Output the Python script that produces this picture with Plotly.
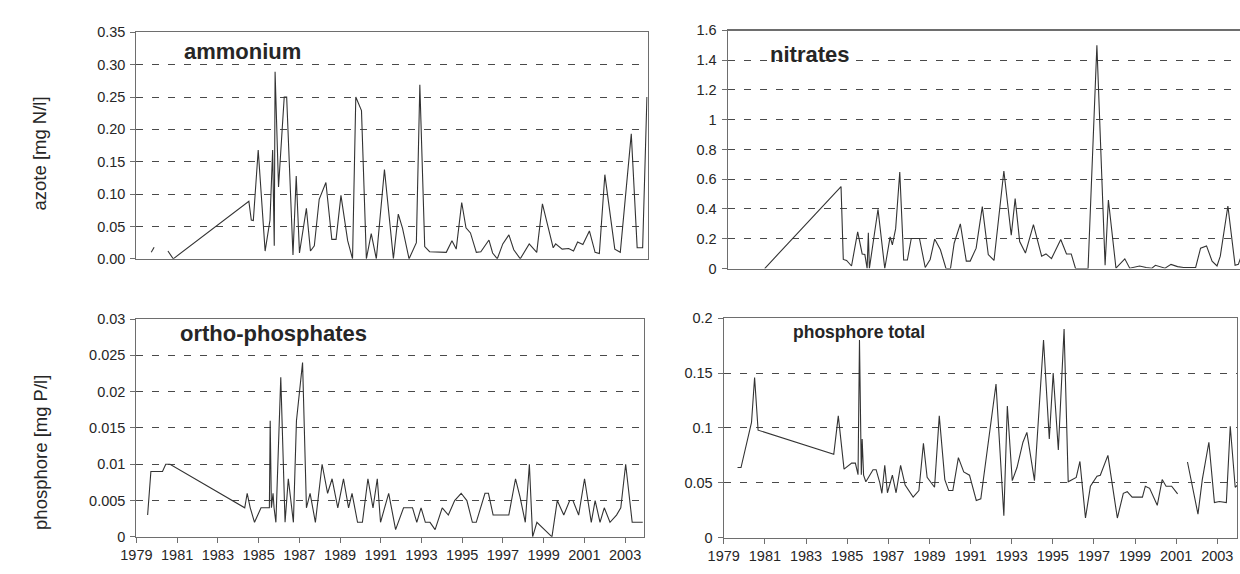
import plotly.graph_objects as go

# ---- sampling dates (decimal years) and concentrations ----
years_nh4 = [1979.73, 1979.87, None,
             1980.55, 1980.81, 1984.53, 1984.65, 1984.75, 1984.99, 1985.33, 1985.57, 1985.70,
             1985.78, 1985.82, 1985.99, 1986.27, 1986.39, 1986.70, 1986.86, 1987.02, 1987.36,
             1987.56, 1987.75, 1987.99, 1988.32, 1988.61, 1988.82, 1989.06, 1989.39, 1989.63,
             1989.79, 1990.07, 1990.31, 1990.55, 1990.80, 1991.20, 1991.64, 1991.88, 1992.09,
             1992.41, 1992.77, 1992.94, 1993.18, 1993.42, 1993.95, 1994.24, 1994.52, 1994.73,
             1995.00, 1995.21, 1995.43, 1995.72, 1995.94, 1996.34, 1996.52, 1996.75, 1997.02,
             1997.32, 1997.56, 1997.88, 1998.32, 1998.69, 1998.97, 1999.26, 1999.50, 1999.62,
             1999.94, 2000.26, 2000.50, 2000.70, 2000.96, 2001.28, 2001.56, 2001.77, 2002.04,
             2002.53, 2002.80, 2003.34, 2003.63, 2003.90, 2004.11]
nh4 = [0.010, 0.018, None,
       0.012, 0.000, 0.089, 0.060, 0.059, 0.168, 0.012, 0.060, 0.168,
       0.020, 0.289, 0.111, 0.250, 0.250, 0.006, 0.128, 0.009, 0.078,
       0.012, 0.020, 0.092, 0.118, 0.030, 0.030, 0.098, 0.028, 0.000,
       0.250, 0.229, 0.000, 0.039, 0.000, 0.138, 0.000, 0.069, 0.047,
       0.000, 0.025, 0.269, 0.019, 0.011, 0.010, 0.010, 0.028, 0.015,
       0.087, 0.048, 0.040, 0.010, 0.011, 0.029, 0.009, 0.000, 0.023,
       0.037, 0.014, 0.000, 0.023, 0.010, 0.085, 0.046, 0.017, 0.023,
       0.015, 0.016, 0.012, 0.026, 0.022, 0.043, 0.010, 0.008, 0.130,
       0.015, 0.010, 0.193, 0.017, 0.017, 0.250]

years_no3 = [1980.80, 1984.52, 1984.63, 1984.79, 1985.03, 1985.33, 1985.55, 1985.68, 1985.79,
             1985.85, 1985.90, 1986.32, 1986.65, 1986.91, 1987.02, 1987.18, 1987.38, 1987.57,
             1987.75, 1987.94, 1988.34, 1988.62, 1988.86, 1989.08, 1989.36, 1989.63, 1989.85,
             1990.03, 1990.33, 1990.62, 1990.81, 1991.10, 1991.40, 1991.69, 1991.97, 1992.45,
             1992.81, 1993.00, 1993.22, 1993.50, 1993.89, 1994.29, 1994.50, 1994.77, 1995.22,
             1995.50, 1995.73, 1995.94, 1996.55, 1996.98, 1997.38, 1997.54, 1997.91, 1998.34,
             1998.58, 1998.79, 1999.06, 1999.38, 1999.66, 1999.83, 2000.11, 2000.30, 2000.59,
             2000.91, 2001.20, 2001.79, 2002.03, 2002.32, 2002.59, 2002.83, 2002.99, 2003.36,
             2003.71, 2003.87, 2004.05]
no3 = [0.000, 0.551, 0.061, 0.054, 0.017, 0.246, 0.098, 0.094, 0.000,
       0.240, 0.000, 0.398, 0.000, 0.213, 0.159, 0.268, 0.649, 0.057,
       0.057, 0.202, 0.202, 0.007, 0.061, 0.198, 0.126, 0.000, 0.000,
       0.170, 0.300, 0.050, 0.050, 0.137, 0.416, 0.094, 0.054, 0.655,
       0.224, 0.470, 0.181, 0.104, 0.295, 0.083, 0.098, 0.067, 0.195,
       0.098, 0.098, 0.000, 0.000, 1.500, 0.022, 0.460, 0.002, 0.065,
       0.002, 0.007, 0.017, 0.007, 0.002, 0.022, 0.013, 0.002, 0.028,
       0.013, 0.007, 0.007, 0.137, 0.152, 0.050, 0.017, 0.083, 0.420,
       0.022, 0.028, 0.100]

years_po4 = [1979.55, 1979.71, 1980.28, 1980.44, 1980.65, 1984.32, 1984.44, 1984.59, 1984.80,
             1985.12, 1985.53, 1985.57, 1985.63, 1985.71, 1985.76, 1985.85, 1986.09, 1986.30,
             1986.46, 1986.71, 1986.86, 1987.16, 1987.35, 1987.53, 1987.79, 1988.12, 1988.39,
             1988.61, 1988.89, 1989.17, 1989.42, 1989.59, 1989.86, 1990.10, 1990.37, 1990.62,
             1990.83, 1990.99, 1991.39, 1991.73, 1992.12, 1992.56, 1992.77, 1992.98, 1993.19,
             1993.42, 1993.67, 1994.02, 1994.32, 1994.63, 1994.95, 1995.23, 1995.50, 1995.69,
             1996.12, 1996.29, 1996.52, 1997.29, 1997.62, 1997.84, 1998.10, 1998.30, 1998.46,
             1998.67, 1999.41, 1999.67, 1999.99, 2000.28, 2000.44, 2000.72, 2001.01, 2001.34,
             2001.53, 2001.77, 2001.98, 2002.26, 2002.58, 2002.79, 2003.03, 2003.35, 2003.87]
po4 = [0.003, 0.009, 0.009, 0.010, 0.010, 0.004, 0.006, 0.004, 0.002,
       0.004, 0.004, 0.016, 0.004, 0.006, 0.004, 0.002, 0.022, 0.002,
       0.008, 0.002, 0.016, 0.024, 0.004, 0.006, 0.002, 0.010, 0.006,
       0.008, 0.004, 0.008, 0.004, 0.006, 0.002, 0.002, 0.008, 0.004,
       0.008, 0.002, 0.006, 0.001, 0.004, 0.004, 0.002, 0.004, 0.002,
       0.002, 0.001, 0.004, 0.003, 0.005, 0.006, 0.005, 0.002, 0.002,
       0.006, 0.006, 0.003, 0.003, 0.008, 0.0055, 0.002, 0.010, 0.000,
       0.002, 0.000, 0.005, 0.003, 0.005, 0.005, 0.003, 0.008, 0.002,
       0.005, 0.002, 0.004, 0.002, 0.003, 0.004, 0.010, 0.002, 0.002]

years_ptot = [1979.67, 1979.84, 1980.35, 1980.50, 1980.67, 1984.35, 1984.57, 1984.85, 1985.22,
              1985.40, 1985.53, 1985.60, 1985.69, 1985.73, 1985.80, 1985.91, 1986.26, 1986.41,
              1986.59, 1986.69, 1986.83, 1986.96, 1987.20, 1987.38, 1987.60, 1987.82, 1988.21,
              1988.49, 1988.71, 1988.89, 1989.25, 1989.48, 1989.75, 1989.94, 1990.14, 1990.41,
              1990.67, 1990.95, 1991.28, 1991.50, 1992.24, 1992.62, 1992.79, 1993.03, 1993.26,
              1993.55, 1993.74, 1994.11, 1994.55, 1994.83, 1995.02, 1995.27, 1995.55, 1995.75,
              1996.14, 1996.32, 1996.59, 1996.83, 1997.15, 1997.31, 1997.68, 1998.14, 1998.43,
              1998.62, 1998.86, 1999.36, 1999.50, 1999.71, 2000.08, 2000.32, 2000.51, 2000.78,
              2001.07, None,
              2001.55, 2002.06, 2002.27, 2002.59, 2002.86, 2003.10, 2003.44, 2003.63, 2003.87,
              2004.04]
ptot = [0.064, 0.064, 0.105, 0.146, 0.098, 0.076, 0.111, 0.0625, 0.068,
        0.068, 0.0575, 0.180, 0.0575, 0.090, 0.057, 0.051, 0.062, 0.062,
        0.050, 0.0405, 0.066, 0.041, 0.057, 0.041, 0.066, 0.048, 0.037,
        0.043, 0.086, 0.055, 0.046, 0.111, 0.053, 0.043, 0.043, 0.073,
        0.060, 0.057, 0.034, 0.0355, 0.140, 0.020, 0.120, 0.052, 0.064,
        0.087, 0.096, 0.052, 0.180, 0.090, 0.150, 0.080, 0.190, 0.051,
        0.055, 0.0695, 0.018, 0.047, 0.056, 0.057, 0.075, 0.018, 0.0405,
        0.042, 0.037, 0.037, 0.047, 0.045, 0.0296, 0.053, 0.047, 0.047,
        0.040, None,
        0.069, 0.0216, 0.053, 0.087, 0.032, 0.033, 0.032, 0.1015, 0.046,
        0.049]

# ---- axis ticks ----
year_ticks = list(range(1979, 2004, 2))
year_labels = [str(y) for y in year_ticks]

nh4_ticks = [0.0, 0.05, 0.10, 0.15, 0.20, 0.25, 0.30, 0.35]
nh4_labels = ["0.00", "0.05", "0.10", "0.15", "0.20", "0.25", "0.30", "0.35"]
no3_ticks = [0, 0.2, 0.4, 0.6, 0.8, 1.0, 1.2, 1.4, 1.6]
no3_labels = ["0", "0.2", "0.4", "0.6", "0.8", "1", "1.2", "1.4", "1.6"]
po4_ticks = [0, 0.005, 0.01, 0.015, 0.02, 0.025, 0.03]
po4_labels = ["0", "0.005", "0.01", "0.015", "0.02", "0.025", "0.03"]
ptot_ticks = [0, 0.05, 0.1, 0.15, 0.2]
ptot_labels = ["0", "0.05", "0.1", "0.15", "0.2"]

W, H = 1240, 574
FONT = "Liberation Sans, Arial, sans-serif"
LINE = "#333333"
FRAME = "#6e6e6e"
GRID = "#4a4a4a"
TEXT = "#262626"


def px_x(a, b):
    return [a / W, b / W]


def px_y(top, bottom):
    return [1 - bottom / H, 1 - top / H]


fig = go.Figure()
panels = [
    ("x", "y", years_nh4, nh4),
    ("x2", "y2", years_no3, no3),
    ("x3", "y3", years_po4, po4),
    ("x4", "y4", years_ptot, ptot),
]
for xa, ya, xs, ys in panels:
    fig.add_trace(go.Scatter(x=xs, y=ys, mode="lines", xaxis=xa, yaxis=ya,
                             line=dict(color=LINE, width=1.1), connectgaps=False,
                             showlegend=False, hoverinfo="skip"))

tick_font = dict(family=FONT, size=14.5, color=TEXT)


def xaxis(domain, rng, anchor, labels):
    d = dict(domain=domain, range=rng, anchor=anchor, showgrid=False, zeroline=False,
             showline=True, linecolor=FRAME, linewidth=1.3, mirror=True,
             tickvals=year_ticks, ticktext=year_labels, tickfont=tick_font)
    if labels:
        d.update(ticks="outside", ticklen=5, tickcolor=FRAME, tickwidth=1, showticklabels=True)
    else:
        d.update(ticks="", showticklabels=False)
    return d


def yaxis(domain, rng, anchor, vals, text, mirror=True):
    return dict(domain=domain, range=rng, anchor=anchor, zeroline=False,
                showline=True, linecolor=FRAME, linewidth=1.3, mirror=mirror,
                tickvals=vals, ticktext=text, tickfont=tick_font,
                ticks="outside", ticklen=5, tickcolor=FRAME, tickwidth=1,
                ticklabelstandoff=2,
                showgrid=True, gridcolor=GRID, gridwidth=1, griddash="7px,9px")


fig.update_layout(
    width=W, height=H, margin=dict(l=0, r=0, t=0, b=0),
    paper_bgcolor="white", plot_bgcolor="white",
    xaxis=xaxis(px_x(122, 640), [1979, 2004.15], "y", False),
    yaxis=yaxis(px_y(25, 258), [0, 0.35], "x", nh4_ticks, nh4_labels),
    xaxis2=xaxis(px_x(721, 1240), [1979, 2003.95], "y2", False),
    yaxis2=yaxis(px_y(23, 268), [0, 1.6], "x2", no3_ticks, no3_labels, mirror=False),
    xaxis3=xaxis(px_x(122, 636), [1979, 2003.92], "y3", True),
    yaxis3=yaxis(px_y(320, 544), [0, 0.03], "x3", po4_ticks, po4_labels),
    xaxis4=xaxis(px_x(717, 1237), [1979, 2003.96], "y4", True),
    yaxis4=yaxis(px_y(319, 545), [0, 0.2], "x4", ptot_ticks, ptot_labels),
)

# the top-right frame keeps its upper edge but has no right edge
fig.add_shape(type="line", xref="paper", yref="paper", x0=721 / W, x1=1, y0=1 - 23 / H, y1=1 - 23 / H,
              line=dict(color=FRAME, width=1.3))

titles = [
    ("ammonium", 168, 45, 22),
    ("nitrates", 762, 48, 22),
    ("ortho-phosphates", 164, 335, 22),
    ("phosphore total", 785, 333, 17.5),
]
for txt, x, y, size in titles:
    fig.add_annotation(text="<b>%s</b>" % txt, xref="paper", yref="paper", x=x / W, y=1 - y / H,
                       xanchor="left", yanchor="middle", showarrow=False,
                       font=dict(family=FONT, size=size, color=TEXT))

for txt, x, y in [("azote [mg N/l]", 24, 150), ("phosphore [mg P/l]", 25, 457)]:
    fig.add_annotation(text=txt, xref="paper", yref="paper", x=x / W, y=1 - y / H,
                       xanchor="center", yanchor="middle", textangle=-90, showarrow=False,
                       font=dict(family=FONT, size=18.5, color=TEXT))

fig.write_html("out.html")
